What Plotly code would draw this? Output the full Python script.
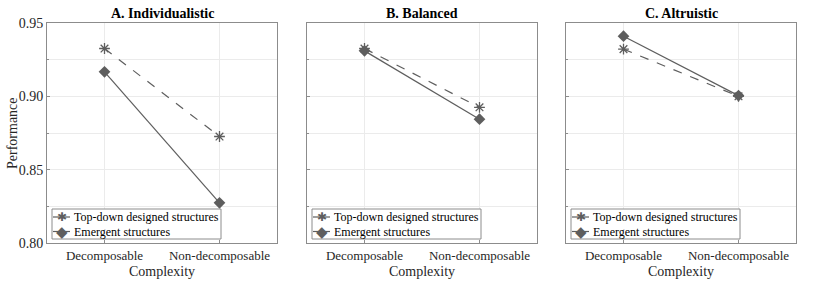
import plotly.graph_objects as go

categories = ["Decomposable", "Non-decomposable"]
panel_titles = ["A. Individualistic", "B. Balanced", "C. Altruistic"]
series_names = ["Top-down designed structures", "Emergent structures"]
topdown_A = [0.9326, 0.8726]
emergent_A = [0.9167, 0.8274]
topdown_B = [0.9326, 0.8925]
emergent_B = [0.9310, 0.8844]
topdown_C = [0.9322, 0.9000]
emergent_C = [0.9410, 0.9005]
y_tick_vals = [0.80, 0.85, 0.90, 0.95]
y_tick_text = ["0.80", "0.85", "0.90", "0.95"]

topdown = [topdown_A, topdown_B, topdown_C]
emergent = [emergent_A, emergent_B, emergent_C]

FONT = "Liberation Serif, 'Times New Roman', 'DejaVu Serif', serif"
COL = "#5e5e5e"
AXC = "#8c8c8c"
GRID = "#ebebeb"
TXT = "#262626"
W, H = 830, 281
ML, MR, MT, MB = 47, 34, 23, 38
span = W - ML - MR
ph = H - MT - MB
pan_px = [(47, 277), (307, 537), (566, 796)]
domains = [[(a - ML) / span, (b - ML) / span] for a, b in pan_px]

def px_x(px):
    return (px - ML) / span

def px_y(py):
    return (H - MB - py) / ph

fig = go.Figure()
xpos = [0, 1]
for i in range(3):
    sfx = "" if i == 0 else str(i + 1)
    fig.add_trace(go.Scatter(
        x=xpos, y=topdown[i], mode="lines+markers", name=series_names[0],
        line=dict(color=COL, width=1.2, dash="dash"),
        marker=dict(symbol="asterisk-open", size=9, color=COL, line=dict(color=COL, width=1.3)),
        xaxis="x" + sfx, yaxis="y" + sfx, showlegend=False))
    fig.add_trace(go.Scatter(
        x=xpos, y=emergent[i], mode="lines+markers", name=series_names[1],
        line=dict(color=COL, width=1.2),
        marker=dict(symbol="diamond", size=9, color=COL),
        xaxis="x" + sfx, yaxis="y" + sfx, showlegend=False))

layout = dict(
    width=W, height=H, margin=dict(l=ML, r=MR, t=MT, b=MB, autoexpand=False),
    paper_bgcolor="white", plot_bgcolor="white",
    font=dict(family=FONT, size=13, color=TXT),
    showlegend=False,
)
annotations = []
shapes = []
for i in range(3):
    sfx = "" if i == 0 else str(i + 1)
    xa = dict(
        domain=domains[i], range=[-0.5, 1.5], tickvals=xpos, ticktext=categories,
        showgrid=True, gridcolor=GRID, gridwidth=1, zeroline=False,
        showline=True, linecolor=AXC, linewidth=1, mirror=True,
        ticks="inside", ticklen=3, tickcolor=AXC, automargin=False,
        tickfont=dict(family=FONT, size=13, color=TXT),
        title=dict(text="Complexity", font=dict(family=FONT, size=14, color=TXT), standoff=4),
        anchor="y" + sfx, fixedrange=True,
    )
    ya = dict(
        domain=[0, 1], range=[0.80, 0.95], tickvals=y_tick_vals,
        ticktext=y_tick_text if i == 0 else [""] * 4,
        showgrid=True, gridcolor=GRID, gridwidth=1, zeroline=False,
        minor=dict(dtick=0.025, tick0=0.80, showgrid=True, gridcolor=GRID, ticks="inside", ticklen=2, tickcolor=AXC),
        showline=True, linecolor=AXC, linewidth=1, mirror=True,
        ticks="inside", ticklen=3, tickcolor=AXC, automargin=False,
        tickfont=dict(family=FONT, size=14, color=TXT),
        anchor="x" + sfx, fixedrange=True,
    )
    layout["xaxis" + sfx] = xa
    layout["yaxis" + sfx] = ya

    # panel title
    annotations.append(dict(
        text="<b>" + panel_titles[i] + "</b>", xref="paper", yref="paper",
        x=(domains[i][0] + domains[i][1]) / 2, y=1, xanchor="center", yanchor="bottom",
        yshift=0, showarrow=False, font=dict(family=FONT, size=14, color="#000000"),
    ))

    # custom compact legend (box, line samples, symbols, labels)
    left = pan_px[i][0]
    shapes.append(dict(type="rect", xref="paper", yref="paper",
                       x0=px_x(left + 5), x1=px_x(left + 174), y0=px_y(239), y1=px_y(209),
                       line=dict(color=AXC, width=1), fillcolor="white", layer="above"))
    for row, (py, sym, name) in enumerate([(217, "✱", series_names[0]),
                                           (231.5, "◆", series_names[1])]):
        shapes.append(dict(type="line", xref="paper", yref="paper",
                           x0=px_x(left + 6), x1=px_x(left + 23), y0=px_y(py), y1=px_y(py),
                           line=dict(color=COL, width=1.2, dash="solid"), layer="above"))
        annotations.append(dict(
            text=sym, xref="paper", yref="paper", x=px_x(left + 14.5), y=px_y(py),
            xanchor="center", yanchor="middle", showarrow=False,
            font=dict(family="DejaVu Sans", size=12 if row == 0 else 15, color=COL)))
        annotations.append(dict(
            text=name, xref="paper", yref="paper", x=px_x(left + 25), y=px_y(py),
            xanchor="left", yanchor="middle", showarrow=False,
            font=dict(family=FONT, size=12, color="#000000")))

# y-axis title of the first panel
annotations.append(dict(
    text="Performance", xref="paper", yref="paper", x=px_x(12), y=0.5,
    xanchor="center", yanchor="middle", textangle=-90, showarrow=False,
    font=dict(family=FONT, size=14, color=TXT)))

layout["annotations"] = annotations
layout["shapes"] = shapes
fig.update_layout(**layout)
fig.write_html("out.html", config={"displayModeBar": False, "staticPlot": True},
               post_script="document.body.style.margin='0';document.body.style.overflow='hidden';")
